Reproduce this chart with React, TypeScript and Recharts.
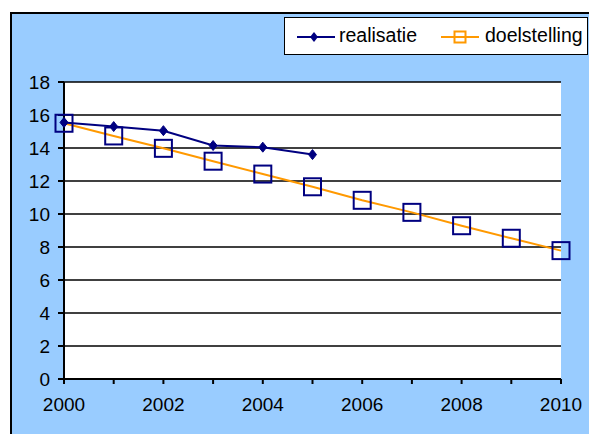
import { LineChart, Line, XAxis, YAxis, CartesianGrid } from 'recharts'

const years = [2000, 2001, 2002, 2003, 2004, 2005, 2006, 2007, 2008, 2009, 2010]
const realisatie = [15.55, 15.3, 15.05, 14.15, 14.05, 13.6, null, null, null, null, null]
const doelstelling = [15.5, 14.73, 13.98, 13.2, 12.42, 11.65, 10.83, 10.1, 9.29, 8.53, 7.78]
const yTicks = [0, 2, 4, 6, 8, 10, 12, 14, 16, 18]

const NAVY = '#000080'
const ORANGE = '#FF9900'
const FONT = '"Liberation Sans", Arial, sans-serif'

const data = years.map((year, i) => ({
  year,
  realisatie: realisatie[i],
  doelstelling: doelstelling[i],
}))

// open navy square on the target line
const SquareDot = (props: any) => {
  const { cx, cy } = props
  if (cx == null || cy == null) return null
  return (
    <rect x={cx - 8.5} y={cy - 8.5} width={17} height={17} fill="none" stroke={NAVY} strokeWidth={2} />
  )
}

const DiamondDot = (props: any) => {
  const { cx, cy } = props
  if (cx == null || cy == null) return null
  return (
    <polygon
      points={`${cx},${cy - 5} ${cx + 4},${cy} ${cx},${cy + 5} ${cx - 4},${cy}`}
      fill={NAVY}
      stroke={NAVY}
    />
  )
}

export default function App() {
  return (
    <div style={{ position: 'absolute', left: 0, top: 0, width: 589, height: 434, overflow: 'hidden', fontFamily: FONT }}>
      {/* chart area background */}
      <div
        style={{
          position: 'absolute',
          left: 10,
          top: 12,
          width: 590,
          height: 430,
          background: '#99CCFF',
          borderLeft: '2px solid #000',
          borderTop: '2px solid #000',
        }}
      />
      <div style={{ position: 'absolute', left: 0, top: 0 }}>
        <LineChart width={589} height={434} data={data} margin={{ top: 82, right: 28, bottom: 15, left: 4 }}>
          <CartesianGrid vertical={false} stroke="#000" strokeWidth={1.5} fill="#fff" fillOpacity={1} />
          <XAxis
            dataKey="year"
            type="number"
            domain={[2000, 2010]}
            ticks={years}
            interval={0}
            tickFormatter={(v: number) => (v % 2 === 0 ? String(v) : '')}
            height={40}
            stroke="#000"
            strokeWidth={2}
            tickSize={5}
            tickMargin={14}
            tick={{ fill: '#000', fontSize: 19, fontFamily: FONT }}
          />
          <YAxis
            domain={[0, 18]}
            ticks={yTicks}
            interval={0}
            width={60}
            stroke="#000"
            strokeWidth={2}
            tickSize={6}
            tickMargin={8}
            tick={{ fill: '#000', fontSize: 19, fontFamily: FONT }}
          />
          <Line
            dataKey="doelstelling"
            stroke={ORANGE}
            strokeWidth={2}
            dot={<SquareDot />}
            activeDot={false}
            isAnimationActive={false}
          />
          <Line
            dataKey="realisatie"
            stroke={NAVY}
            strokeWidth={2}
            dot={<DiamondDot />}
            activeDot={false}
            connectNulls={false}
            isAnimationActive={false}
          />
        </LineChart>
      </div>
      {/* legend */}
      <div
        style={{
          position: 'absolute',
          left: 284,
          top: 17,
          width: 302,
          height: 36,
          background: '#fff',
          border: '1.5px solid #000',
          fontSize: 19.5,
          color: '#000',
        }}
      >
        <svg style={{ position: 'absolute', left: 11, top: 11 }} width={40} height={16}>
          <line x1={1} y1={8} x2={39} y2={8} stroke={NAVY} strokeWidth={2} />
          <polygon points="18,3 22,8 18,13 14,8" fill={NAVY} />
        </svg>
        <span style={{ position: 'absolute', left: 54, top: 6 }}>realisatie</span>
        <svg style={{ position: 'absolute', left: 155, top: 11 }} width={40} height={16}>
          <line x1={1} y1={8} x2={39} y2={8} stroke={ORANGE} strokeWidth={2} />
          <rect x={14.5} y={2.5} width={11} height={11} fill="none" stroke={ORANGE} strokeWidth={2} />
        </svg>
        <span style={{ position: 'absolute', left: 200, top: 6 }}>doelstelling</span>
      </div>
    </div>
  )
}
